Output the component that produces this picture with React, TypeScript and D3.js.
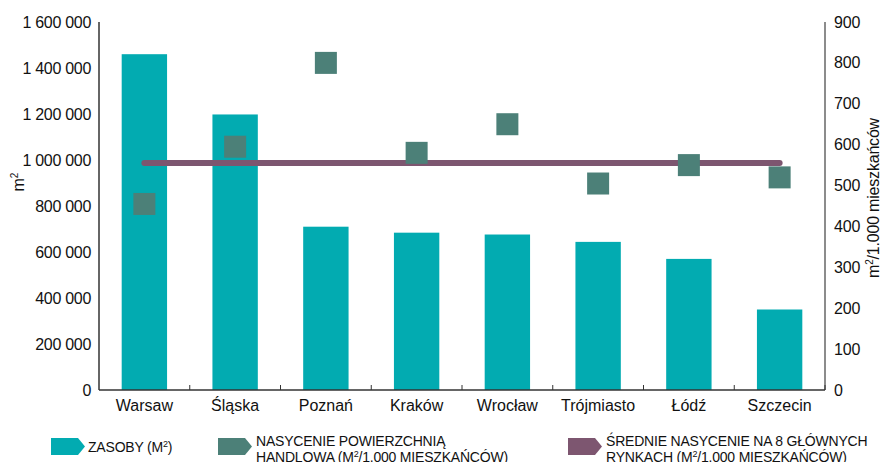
import React from "react";
import * as d3 from "d3";

const cities = ["Warsaw", "Śląska", "Poznań", "Kraków", "Wrocław", "Trójmiasto", "Łódź", "Szczecin"];
const stock = [1460000, 1198000, 710000, 684000, 676000, 644000, 570000, 350000];
const saturation = [455, 595, 800, 580, 650, 505, 550, 520];
const averageSaturation = 555;
const leftTicks = [0, 200000, 400000, 600000, 800000, 1000000, 1200000, 1400000, 1600000];
const rightTicks = [0, 100, 200, 300, 400, 500, 600, 700, 800, 900];

const W = 880;
const H = 462;
const M = { left: 99, right: 825, top: 22, bottom: 390 };
const FONT = "'Liberation Sans', Arial, Helvetica, sans-serif";
const TEAL = "#02abb1";
const SQUARE = "#4c8078";
const LINE = "#7d5670";

const fmt = (v: number) => d3.format(",")(v).replace(/,/g, " ");

function Marker({ x, y, color }: { x: number; y: number; color: string }) {
  const w = 34, h = 17, tip = 7;
  const d = `M${x},${y} L${x + w - tip},${y} L${x + w},${y + h / 2} L${x + w - tip},${y + h} L${x},${y + h} Z`;
  return <path d={d} fill={color} />;
}

export default function App() {
  const x = d3.scaleBand<string>().domain(cities).range([M.left, M.right]).paddingInner(0.5).paddingOuter(0.25);
  const xEdge = d3.scaleLinear().domain([0, cities.length]).range([M.left, M.right]);
  const yL = d3.scaleLinear().domain([0, 1600000]).range([M.bottom, M.top]);
  const yR = d3.scaleLinear().domain([0, 900]).range([M.bottom, M.top]);
  const cx = (c: string) => (x(c) as number) + x.bandwidth() / 2;
  const sq = 22;

  const avgLine = d3.line<string>().x((c) => cx(c)).y(() => yR(averageSaturation));

  return (
    <svg width={W} height={H} style={{ position: "absolute", left: 0, top: 0, display: "block", background: "#fff" }} fontFamily={FONT}>
      {/* bars */}
      {cities.map((c, i) => (
        <rect key={c} x={x(c)} y={yL(stock[i])} width={x.bandwidth()} height={M.bottom - yL(stock[i])} fill={TEAL} />
      ))}

      {/* average line */}
      <path d={avgLine([cities[0], cities[cities.length - 1]]) || ""} stroke={LINE} strokeWidth={6} strokeLinecap="round" fill="none" />

      {/* saturation squares */}
      {cities.map((c, i) => (
        <rect key={c} x={cx(c) - sq / 2} y={yR(saturation[i]) - sq / 2} width={sq} height={sq} fill={SQUARE} />
      ))}

      {/* axes */}
      <line x1={M.left} x2={M.left} y1={M.top} y2={M.bottom} stroke="#333" strokeWidth={1.5} />
      <line x1={M.right} x2={M.right} y1={M.top} y2={M.bottom} stroke="#666" strokeWidth={1.5} />
      <line x1={M.left} x2={M.right} y1={M.bottom} y2={M.bottom} stroke="#333" strokeWidth={1.5} />
      {d3.range(1, cities.length + 1).map((k) => (
        <line key={k} x1={xEdge(k)} x2={xEdge(k)} y1={M.bottom - 5} y2={M.bottom} stroke="#333" strokeWidth={1} />
      ))}

      {leftTicks.map((t) => (
        <text key={t} x={91} y={yL(t)} dy="0.35em" textAnchor="end" fontSize={16} letterSpacing={-0.3} fill="#111">
          {fmt(t)}
        </text>
      ))}
      {rightTicks.map((t) => (
        <text key={t} x={834} y={yR(t)} dy="0.35em" textAnchor="start" fontSize={16} letterSpacing={-0.2} fill="#111">
          {t}
        </text>
      ))}
      {cities.map((c) => (
        <text key={c} x={cx(c)} y={411} textAnchor="middle" fontSize={16} fill="#111">
          {c}
        </text>
      ))}

      {/* axis titles */}
      <text transform={`translate(24,182) rotate(-90)`} textAnchor="middle" fontSize={16} fill="#111">
        m<tspan dy="-6" fontSize={10}>2</tspan>
      </text>
      <text transform={`translate(879,198) rotate(-90)`} textAnchor="middle" fontSize={16} letterSpacing={-0.2} fill="#111">
        m<tspan dy="-6" fontSize={10}>2</tspan>
        <tspan dy="6">/1.000 mieszkańców</tspan>
      </text>

      {/* legend */}
      <Marker x={51} y={438} color={TEAL} />
      <text x={88} y={452} fontSize={14} letterSpacing={-0.2} fill="#111">
        ZASOBY (M<tspan dy="-5" fontSize={9}>2</tspan><tspan dy="5">)</tspan>
      </text>

      <Marker x={218} y={438} color={SQUARE} />
      <text x={256} y={446} fontSize={14} letterSpacing={-0.2} fill="#111">
        NASYCENIE POWIERZCHNIĄ
      </text>
      <text x={256} y={462} fontSize={14} letterSpacing={-0.2} fill="#111">
        HANDLOWA (M<tspan dy="-5" fontSize={9}>2</tspan><tspan dy="5">/1.000 MIESZKAŃCÓW)</tspan>
      </text>

      <Marker x={568} y={438} color={LINE} />
      <text x={606} y={446} fontSize={14} letterSpacing={-0.2} fill="#111">
        ŚREDNIE NASYCENIE NA 8 GŁÓWNYCH
      </text>
      <text x={606} y={462} fontSize={14} letterSpacing={-0.2} fill="#111">
        RYNKACH (M<tspan dy="-5" fontSize={9}>2</tspan><tspan dy="5">/1.000 MIESZKAŃCÓW)</tspan>
      </text>
    </svg>
  );
}
